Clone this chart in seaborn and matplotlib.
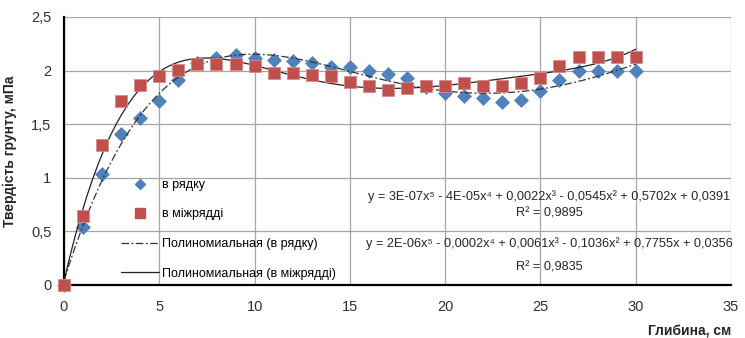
import matplotlib
matplotlib.use("Agg")
import matplotlib.pyplot as plt
import seaborn as sns
import numpy as np
import pandas as pd
from matplotlib.lines import Line2D
from matplotlib.ticker import FuncFormatter

depth = list(range(0, 31))
in_row = [0, 0.54, 1.04, 1.41, 1.56, 1.72, 1.91, 2.07, 2.12, 2.15, 2.12, 2.10, 2.09, 2.07,
          2.03, 2.03, 2.00, 1.97, 1.93, 1.85, 1.79, 1.76, 1.74, 1.71, 1.73, 1.81, 1.91,
          2.00, 2.00, 2.00, 2.00]
between_rows = [0, 0.64, 1.31, 1.72, 1.87, 1.95, 2.01, 2.06, 2.06, 2.06, 2.04, 1.98, 1.98,
                1.96, 1.95, 1.89, 1.86, 1.82, 1.84, 1.86, 1.86, 1.88, 1.86, 1.86, 1.88, 1.93,
                2.04, 2.13, 2.13, 2.13, 2.13]
series_names = ["в рядку", "в міжрядді"]
trend_names = ["Полиномиальная (в рядку)", "Полиномиальная (в міжрядді)"]
eq_row = "y = 3E-07x⁵ - 4E-05x⁴ + 0,0022x³ - 0,0545x² + 0,5702x + 0,0391"
r2_row = "R² = 0,9895"
eq_between = "y = 2E-06x⁵ - 0,0002x⁴ + 0,0061x³ - 0,1036x² + 0,7755x + 0,0356"
r2_between = "R² = 0,9835"
x_ticks = [0, 5, 10, 15, 20, 25, 30, 35]
y_ticks = [0, 0.5, 1, 1.5, 2, 2.5]
x_label = "Глибина, см"
y_label = "Твердість грунту, мПа"

df = pd.DataFrame({"depth": depth, "row": in_row, "between": between_rows})

sns.set_theme(style="white")
FONT = ["Liberation Sans", "DejaVu Sans"]
plt.rcParams["font.family"] = FONT

W, H = 745, 338
fig = plt.figure(figsize=(W / 100, H / 100), dpi=100)
ax = fig.add_axes([64 / W, 1 - 285 / H, (731 - 64) / W, (285 - 17) / H])

blue = "#4F81BD"
red = "#C0504D"
dashdot = (0, (6, 2, 1.5, 2))

# trend lines (5th order polynomial)
sns.regplot(data=df, x="depth", y="row", order=5, ci=None, scatter=False, ax=ax,
            line_kws=dict(color="#333333", lw=0.9, linestyle=dashdot, zorder=4))
sns.regplot(data=df, x="depth", y="between", order=5, ci=None, scatter=False, ax=ax,
            line_kws=dict(color="#222222", lw=0.9, linestyle="-", zorder=4))

sns.scatterplot(data=df, x="depth", y="row", marker="D", s=50, color=blue,
                edgecolor=blue, linewidth=0.5, ax=ax, zorder=3, clip_on=False)
sns.scatterplot(data=df, x="depth", y="between", marker="s", s=85, color=red,
                edgecolor="#D98A88", linewidth=0.6, ax=ax, zorder=5, clip_on=False)

ax.set_xlim(0, 35)
ax.set_ylim(0, 2.5)
ax.set_xticks(x_ticks)
ax.set_yticks(y_ticks)
ax.yaxis.set_major_formatter(FuncFormatter(lambda v, p: f"{v:g}".replace(".", ",")))
ax.grid(True, color="#A6A6A6", lw=0.9)
ax.set_axisbelow(True)
for s in ["top", "right"]:
    ax.spines[s].set_visible(False)
for s in ["left", "bottom"]:
    ax.spines[s].set_color("black")
    ax.spines[s].set_linewidth(1.6)
    ax.spines[s].set_zorder(2)
ax.tick_params(axis="both", which="both", direction="out", length=4, width=1.2,
               color="black", labelsize=10.5, labelcolor="#303030", pad=8)
ax.tick_params(axis="y", pad=5)
ax.tick_params(axis="x", length=5, direction="inout")

ax.set_xlabel(x_label, fontsize=10, fontweight="bold", loc="right", labelpad=8)
ax.set_ylabel(y_label, fontsize=10, fontweight="bold", labelpad=10)

handles = [
    Line2D([], [], marker="D", color=blue, linestyle="none", markersize=5.5),
    Line2D([], [], marker="s", color=red, linestyle="none", markersize=7.5),
    Line2D([], [], color="#333333", lw=0.9, linestyle=dashdot),
    Line2D([], [], color="#222222", lw=0.9, linestyle="-"),
]
leg = ax.legend(handles, series_names + trend_names, loc="upper left",
                bbox_to_anchor=((121 - 64) / (731 - 64), (285 - 179) / (285 - 17)),
                frameon=False, fontsize=9, handlelength=3.0, handletextpad=0.3,
                labelspacing=1.4, borderaxespad=0, borderpad=0)
for t in leg.get_texts():
    t.set_color("#000000")

def fx(px):
    return px / W

def fy(py):
    return 1 - py / H

fig.text(fx(549), fy(197), eq_row, ha="center", va="center", fontsize=9.2)
fig.text(fx(549), fy(214), r2_row, ha="center", va="center", fontsize=9.2)
fig.text(fx(549), fy(244), eq_between, ha="center", va="center", fontsize=9.2)
fig.text(fx(549), fy(268), r2_between, ha="center", va="center", fontsize=9.2)

fig.savefig("out.png", dpi=100)
